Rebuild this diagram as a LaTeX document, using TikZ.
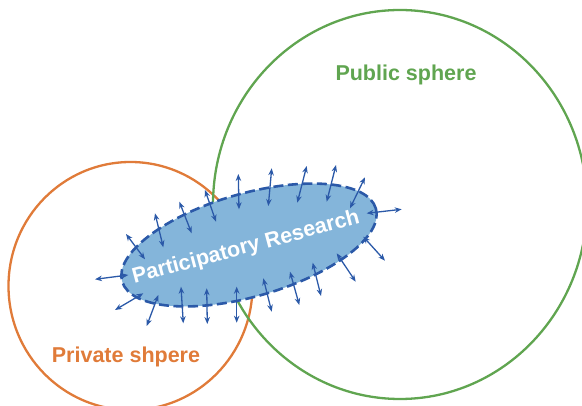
\documentclass[tikz,border=0pt]{standalone}
\usepackage{fontspec}
\setmainfont{Liberation Sans}
\usetikzlibrary{arrows.meta,shapes.geometric}

\definecolor{publicgreen}{RGB}{96,165,80}
\definecolor{privateorange}{RGB}{224,123,57}
\definecolor{prfill}{RGB}{132,181,218}
\definecolor{prblue}{RGB}{43,89,168}

\tikzset{
  sphere/.style={line width=2.3pt},
  label/.style={font=\bfseries\fontsize{21.5}{25}\selectfont, inner sep=0pt, anchor=base},
  flow/.style={prblue, line width=1.3pt, {Stealth[length=7pt,width=5.5pt]}-{Stealth[length=7pt,width=5.5pt]}},
}

\begin{document}
\begin{tikzpicture}[x=1pt,y=1pt]
\useasboundingbox (0,0) rectangle (582,405);

% the two spheres
\node[sphere, draw=privateorange, ellipse, minimum width=244pt, minimum height=248pt, inner sep=0pt] (private) at (130.5,119) {};
\node[sphere, draw=publicgreen, ellipse, minimum width=374pt, minimum height=389pt, inner sep=0pt] (public) at (400,200.5) {};

% participatory research, overlapping both spheres
\node[ellipse, draw=prblue, fill=prfill, line width=2.6pt, dash pattern=on 10pt off 4.5pt,
      minimum width=264pt, minimum height=103pt, inner sep=0pt, rotate=16] (pr) at (249,160) {};

% exchanges across the boundary
\foreach \xa/\ya/\xb/\yb in {
  126/171/145/145.7, 155/191.7/163.3/157.7, 179.3/203.3/191.7/171.7,
  205/215/216/183.3, 238.3/231/239/195.7, 271.7/236.7/268.3/199,
  306.7/239/297.3/202.3, 336/240/326.7/203.3, 365/227.7/350/196.7,
  366.7/191.7/401.7/195.7, 363.3/168.3/385/144.3, 336.7/151.7/355.7/123.3,
  312.7/142.3/321/109, 290/133.3/299.3/100, 263.3/126.7/271.7/93.3,
  236.7/118.3/236.7/82.3, 206.7/116.7/207.3/81, 181/118.3/183.3/81.7,
  158.3/110/146.7/79, 143.3/111.7/115/95, 128.3/130/95/125.7}
  \draw[flow] (\xa,\ya) -- (\xb,\yb);

% labels
\node[label, text=white, anchor=center, rotate=15] (prtext) at (246,157) {Participatory Research};
\node[label, text=publicgreen] (publictext) at (406,324) {Public sphere};
\node[label, text=privateorange] (privatetext) at (126,42.7) {Private shpere};
\end{tikzpicture}
\end{document}
